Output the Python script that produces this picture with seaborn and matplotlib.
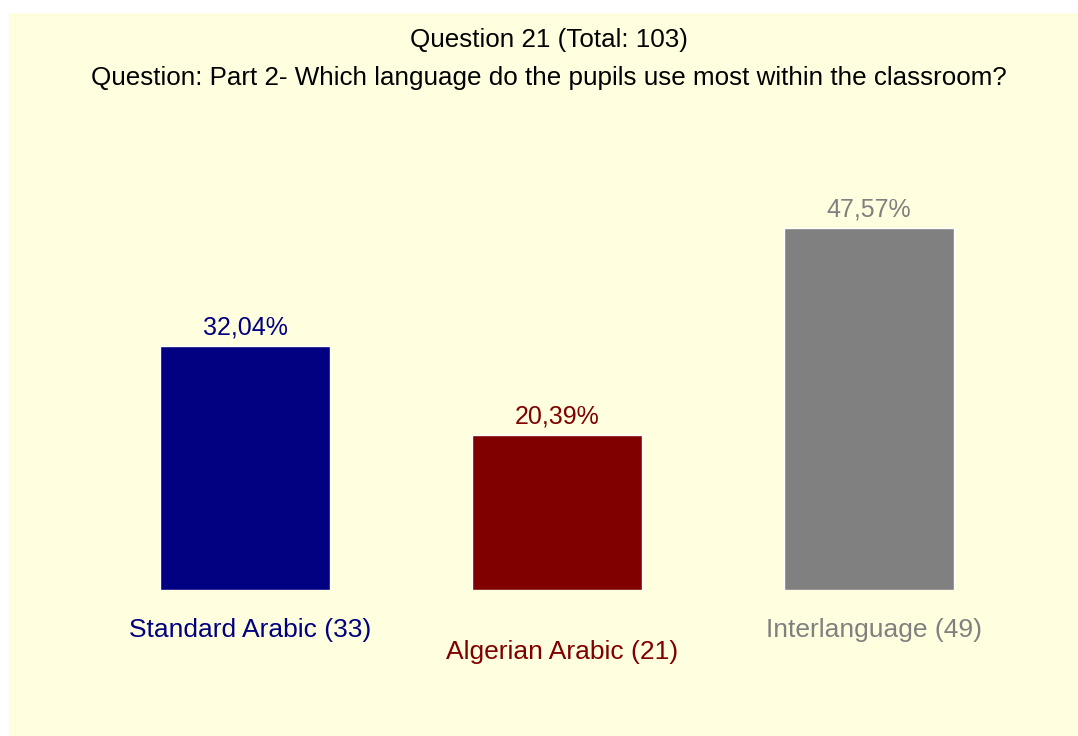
import matplotlib
matplotlib.use("Agg")
import matplotlib.pyplot as plt
import seaborn as sns

# data
categories = ["Standard Arabic", "Algerian Arabic", "Interlanguage"]
counts = [33, 21, 49]
percents = [32.04, 20.39, 47.57]
total = 103
bar_colors = ["#000080", "#800000", "#808080"]

title_1 = f"Question 21 (Total: {total})"
title_2 = "Question: Part 2- Which language do the pupils use most within the classroom?"

sns.set_style("white")
plt.rcParams["font.family"] = ["Liberation Sans", "DejaVu Sans"]

fig = plt.figure(figsize=(10.78, 7.36), dpi=100, facecolor="white")
# pale yellow panel, leaving a thin white strip on the left and top
fig.patches.append(plt.Rectangle((9 / 1078, 0), 1, (736 - 13) / 736,
                                 transform=fig.transFigure, facecolor="#FFFFE0",
                                 edgecolor="none", zorder=-1))

ax = fig.add_axes([89 / 1078, 146 / 736, 936 / 1078, 380 / 736])
ax.set_facecolor("none")
ax.set_zorder(2)

sns.barplot(x=categories, y=percents, hue=categories, palette=bar_colors,
            width=0.545, legend=False, saturation=1, ax=ax)
ax.set_xlim(-0.5, 2.5)
ax.set_ylim(0, 50)
ax.axis("off")

# value labels above bars, category labels below (middle one staggered)
for i, (cat, n, p, c) in enumerate(zip(categories, counts, percents, bar_colors)):
    ax.annotate(f"{p:.2f}".replace(".", ",") + "%", xy=(i, p), xytext=(0, 13.5),
                textcoords="offset points", ha="center", va="center",
                fontsize=18, color=c)
    drop = -45 if i == 1 else -29
    ax.annotate(f"{cat} ({n})", xy=(i + 0.015, 0), xytext=(0, drop),
                textcoords="offset points", ha="center", va="center",
                fontsize=19, color=c)

fig.text(549 / 1078, 1 - 40 / 736, title_1, ha="center", va="center", fontsize=18.7, color="black")
fig.text(549 / 1078, 1 - 78 / 736, title_2, ha="center", va="center", fontsize=18.7, color="black")

fig.savefig("out.png", dpi=100, facecolor=fig.get_facecolor())
